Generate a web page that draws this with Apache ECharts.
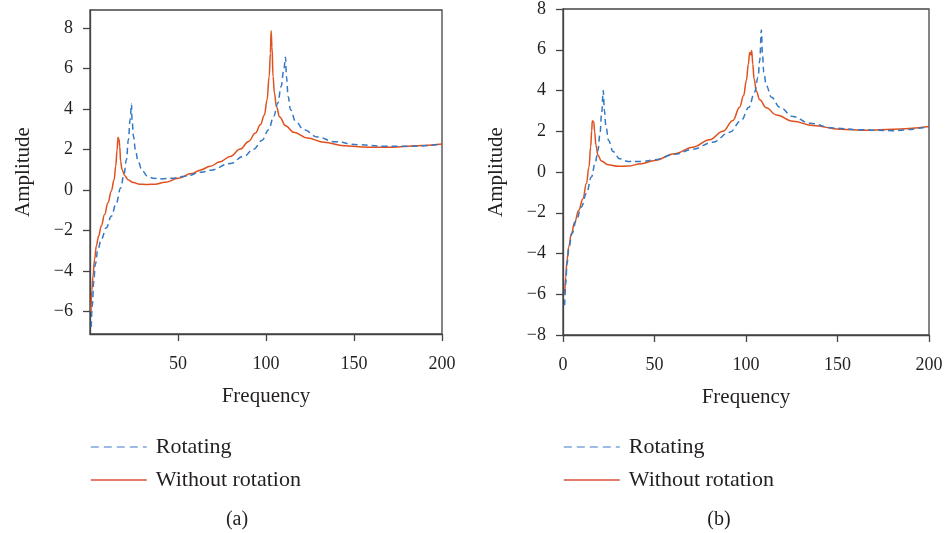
<!DOCTYPE html>
<html>
<head>
<meta charset="utf-8">
<script src="https://cdn.jsdelivr.net/npm/echarts@6/dist/echarts.min.js"></script>
<style>
    html, body { margin: 0; padding: 0; background: #fff; }
    #main { width: 946px; height: 533px; }
</style>
</head>
<body>
<div id="main"></div>
<script>
// (a) 频率 / 幅值
var freqRotA = [0.7, 1.3, 2.1, 3.0, 4.5, 6.4, 9.3, 12.1, 15.0, 17.4, 19.3, 20.7, 21.8, 22.8, 23.6, 23.9, 24.7, 25.8, 27.3, 29.6, 32.7, 35.9, 40.7, 46.4, 54.0, 63.5, 68.3, 79.7, 87.3, 93.0, 97.7, 101.5, 104.4, 106.7, 108.6, 110.1, 111.1, 111.6, 112.6, 113.9, 116.8, 121.5, 129.2, 138.7, 152.0, 167.3, 182.5, 200];
var ampRotA = [-6.75, -5.70, -4.56, -3.66, -2.92, -2.43, -1.85, -1.28, -0.62, 0.11, 0.77, 1.51, 2.49, 3.48, 4.26, 3.48, 2.66, 2.0, 1.43, 0.97, 0.69, 0.59, 0.56, 0.59, 0.69, 0.89, 0.99, 1.32, 1.67, 2.03, 2.46, 2.99, 3.65, 4.30, 5.12, 5.94, 6.57, 5.62, 4.63, 3.98, 3.40, 2.99, 2.63, 2.40, 2.25, 2.17, 2.17, 2.28];
var freqNoRotA = [0.5, 1.1, 1.7, 2.6, 3.6, 4.9, 6.4, 8.3, 10.2, 12.1, 13.7, 14.6, 15.4, 15.9, 16.5, 16.9, 17.4, 18.2, 19.7, 21.6, 24.5, 28.3, 32.1, 36.9, 42.6, 50.2, 57.8, 62.5, 68.3, 74.0, 79.7, 85.4, 90.1, 94.0, 96.8, 99.1, 100.6, 101.8, 102.5, 102.9, 103.4, 104.0, 104.8, 105.9, 107.8, 111.1, 115.8, 123.5, 133.0, 144.4, 157.7, 171.0, 186.2, 200];
var ampNoRotA = [-6.0, -4.92, -4.23, -3.41, -2.75, -2.26, -1.77, -1.20, -0.62, -0.05, 0.52, 1.18, 2.0, 2.62, 2.5, 2.16, 1.43, 1.02, 0.72, 0.52, 0.38, 0.30, 0.28, 0.30, 0.39, 0.59, 0.82, 0.99, 1.18, 1.41, 1.67, 2.03, 2.41, 2.82, 3.23, 3.72, 4.46, 5.61, 6.76, 7.88, 7.09, 5.62, 4.80, 4.14, 3.61, 3.19, 2.86, 2.58, 2.37, 2.20, 2.12, 2.12, 2.20, 2.28];

// (b)
var freqRotB = [0.9, 1.5, 2.2, 3.3, 4.9, 7.3, 10.0, 12.8, 15.5, 17.7, 19.1, 20.2, 21.1, 22.0, 22.6, 23.5, 24.9, 27.3, 30.9, 35.5, 42.8, 50.1, 61.0, 71.0, 81.9, 91.1, 97.4, 101.6, 104.7, 106.6, 107.5, 108.4, 109.0, 109.7, 111.1, 113.9, 118.4, 125.7, 134.8, 147.6, 162.1, 180.3, 200];
var ampRotB = [-6.54, -5.47, -4.49, -3.68, -3.02, -2.37, -1.72, -1.06, -0.25, 0.49, 1.06, 1.88, 2.86, 4.0, 3.02, 2.21, 1.55, 1.01, 0.65, 0.52, 0.51, 0.60, 0.87, 1.12, 1.46, 1.95, 2.53, 3.18, 3.92, 4.65, 5.47, 6.97, 5.80, 4.90, 4.24, 3.67, 3.18, 2.72, 2.39, 2.16, 2.07, 2.03, 2.23];
var freqNoRotB = [0.9, 1.5, 2.2, 3.1, 4.6, 6.4, 8.6, 10.9, 12.8, 14.2, 15.1, 15.7, 16.0, 16.8, 17.3, 18.0, 19.1, 21.0, 24.6, 30.1, 35.5, 42.8, 50.1, 61.0, 71.0, 80.1, 87.4, 92.9, 96.5, 98.7, 100.2, 101.3, 102.0, 102.6, 103.1, 103.7, 104.4, 105.7, 107.5, 111.1, 116.6, 125.7, 136.6, 151.2, 165.8, 180.3, 200];
var ampNoRotB = [-6.0, -5.15, -4.33, -3.68, -3.02, -2.45, -1.88, -1.31, -0.57, 0.25, 1.23, 2.04, 2.5, 2.48, 1.96, 1.31, 0.82, 0.54, 0.36, 0.28, 0.29, 0.41, 0.57, 0.90, 1.22, 1.58, 2.0, 2.53, 3.18, 3.75, 4.49, 5.30, 5.87, 5.76, 5.96, 5.30, 4.57, 3.96, 3.54, 3.15, 2.80, 2.49, 2.28, 2.10, 2.05, 2.10, 2.23];

// 刻度
var xTicksA = [50, 100, 150, 200];
var xTicksB = [0, 50, 100, 150, 200];
var yTicksA = [-6, -4, -2, 0, 2, 4, 6, 8];
var yTicksB = [-8, -6, -4, -2, 0, 2, 4, 6, 8];

var seriesNames = ['Rotating', 'Without rotation'];
var captions = ['(a)', '(b)'];

(function() {
    var FONT = 'Liberation Serif';
    var TXT = '#231f20';
    var AXIS = '#444';
    var BLUE = '#3479c4';
    var RED = '#e0501e';

    var pairs = function(xs, ys) {
        var out = [];
        for (var i = 0; i < xs.length; i++) {
            out.push([xs[i], ys[i]]);
        }
        return out;
    };

    var xAxisOpt = function(idx, ticks) {
        return {
            type: 'value',
            gridIndex: idx,
            min: 0,
            max: 200,
            name: 'Frequency',
            nameLocation: 'middle',
            nameGap: 52,
            nameTextStyle: { fontFamily: FONT, fontSize: 21, color: TXT },
            axisLine: { show: true, onZero: false, lineStyle: { color: AXIS, width: 1.3 } },
            axisTick: { show: true, length: 7, customValues: ticks, lineStyle: { color: AXIS, width: 1.3 } },
            axisLabel: { customValues: ticks, margin: 21, fontFamily: FONT, fontSize: 18, color: TXT },
            splitLine: { show: false }
        };
    };

    var yAxisOpt = function(idx, min, max, ticks) {
        return {
            type: 'value',
            gridIndex: idx,
            min: min,
            max: max,
            name: 'Amplitude',
            nameLocation: 'middle',
            nameGap: 56,
            nameTextStyle: { fontFamily: FONT, fontSize: 21, color: TXT },
            axisLine: { show: true, onZero: false, lineStyle: { color: AXIS, width: 1.3 } },
            axisTick: { show: true, length: 7, customValues: ticks, lineStyle: { color: AXIS, width: 1.3 } },
            axisLabel: {
                customValues: ticks,
                margin: 17,
                fontFamily: FONT,
                fontSize: 18,
                color: TXT,
                formatter: function(v) {
                    return v < 0 ? '\u2212' + Math.abs(v) : String(v);
                }
            },
            splitLine: { show: false }
        };
    };

    var lineOpt = function(name, idx, data, color, dashed) {
        return {
            type: 'line',
            name: name,
            xAxisIndex: idx,
            yAxisIndex: idx,
            data: data,
            symbol: 'none',
            smooth: 0.4,
            smoothMonotone: 'x',
            lineStyle: { color: color, width: 1.5, type: dashed ? [6, 4] : 'solid' },
            itemStyle: { color: color },
            z: dashed ? 3 : 2
        };
    };

    var legendOpt = function(left) {
        return {
            data: [{
                name: seriesNames[0],
                lineStyle: { color: '#7fa5d8', type: [8, 5], width: 1.6 }
            }, {
                name: seriesNames[1],
                lineStyle: { color: '#d9503c', width: 1.6 }
            }],
            orient: 'vertical',
            left: left,
            top: 430,
            itemWidth: 56,
            itemHeight: 14,
            itemGap: 9,
            itemStyle: { opacity: 0 },
            textStyle: { fontFamily: FONT, fontSize: 22, color: TXT, lineHeight: 24, padding: [0, 0, 0, 4] }
        };
    };

    var option = {
        backgroundColor: '#fff',
        animation: false,
        title: [{
            text: captions[0], left: 232, top: 505, textAlign: 'center',
            textStyle: { fontFamily: FONT, fontSize: 20, fontWeight: 'normal', color: TXT }
        }, {
            text: captions[1], left: 714, top: 505, textAlign: 'center',
            textStyle: { fontFamily: FONT, fontSize: 20, fontWeight: 'normal', color: TXT }
        }],
        grid: [{
            left: 90, top: 10, width: 352, height: 324,
            show: true, borderColor: AXIS, borderWidth: 1.3
        }, {
            left: 563, top: 8, width: 366, height: 327,
            show: true, borderColor: AXIS, borderWidth: 1.3
        }],
        legend: [legendOpt(85), legendOpt(558)],
        xAxis: [xAxisOpt(0, xTicksA), xAxisOpt(1, xTicksB)],
        yAxis: [yAxisOpt(0, -7.1, 8.9, yTicksA), yAxisOpt(1, -8, 8, yTicksB)],
        series: [
            lineOpt(seriesNames[0], 0, pairs(freqRotA, ampRotA), BLUE, true),
            lineOpt(seriesNames[1], 0, pairs(freqNoRotA, ampNoRotA), RED, false),
            lineOpt(seriesNames[0], 1, pairs(freqRotB, ampRotB), BLUE, true),
            lineOpt(seriesNames[1], 1, pairs(freqNoRotB, ampNoRotB), RED, false)
        ]
    };

    var chart = echarts.init(document.getElementById('main'));
    chart.setOption(option);
})();
</script>
</body>
</html>
